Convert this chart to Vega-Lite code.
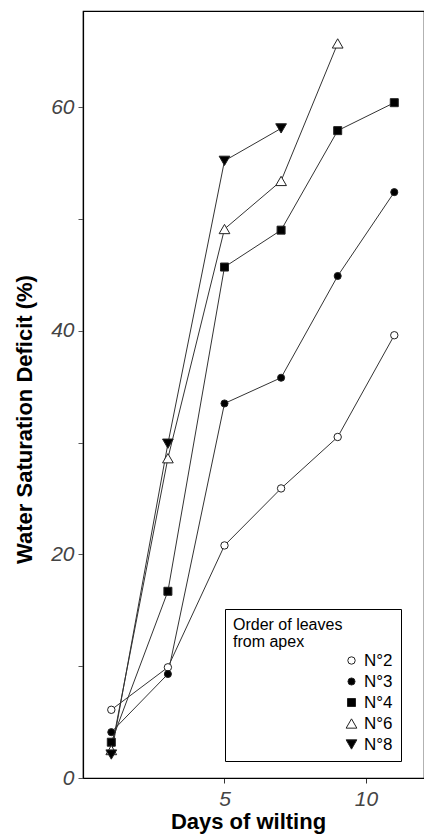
{
  "$schema": "https://vega.github.io/schema/vega-lite/v6.json",
  "width": 341,
  "height": 767,
  "autosize": "none",
  "padding": {"left": 83, "top": 11, "right": 0, "bottom": 56},
  "background": "white",
  "config": {
    "view": {"stroke": "black", "strokeWidth": 1.2},
    "font": "Liberation Sans"
  },
  "data": {
    "values": [
      {"leaf": "N°2", "day": 1, "wsd": 6.1},
      {"leaf": "N°2", "day": 3, "wsd": 9.9},
      {"leaf": "N°2", "day": 5, "wsd": 20.8},
      {"leaf": "N°2", "day": 7, "wsd": 25.9},
      {"leaf": "N°2", "day": 9, "wsd": 30.5},
      {"leaf": "N°2", "day": 11, "wsd": 39.6},
      {"leaf": "N°3", "day": 1, "wsd": 4.1},
      {"leaf": "N°3", "day": 3, "wsd": 9.3},
      {"leaf": "N°3", "day": 5, "wsd": 33.5},
      {"leaf": "N°3", "day": 7, "wsd": 35.8},
      {"leaf": "N°3", "day": 9, "wsd": 44.9},
      {"leaf": "N°3", "day": 11, "wsd": 52.4},
      {"leaf": "N°4", "day": 1, "wsd": 3.2},
      {"leaf": "N°4", "day": 3, "wsd": 16.7},
      {"leaf": "N°4", "day": 5, "wsd": 45.7},
      {"leaf": "N°4", "day": 7, "wsd": 49.0},
      {"leaf": "N°4", "day": 9, "wsd": 57.9},
      {"leaf": "N°4", "day": 11, "wsd": 60.4},
      {"leaf": "N°6", "day": 1, "wsd": 2.5},
      {"leaf": "N°6", "day": 3, "wsd": 28.6},
      {"leaf": "N°6", "day": 5, "wsd": 49.1},
      {"leaf": "N°6", "day": 7, "wsd": 53.4},
      {"leaf": "N°6", "day": 9, "wsd": 65.7},
      {"leaf": "N°8", "day": 1, "wsd": 2.1},
      {"leaf": "N°8", "day": 3, "wsd": 29.9},
      {"leaf": "N°8", "day": 5, "wsd": 55.2},
      {"leaf": "N°8", "day": 7, "wsd": 58.1}
    ]
  },
  "encoding": {
    "x": {
      "field": "day",
      "type": "quantitative",
      "scale": {"domain": [0, 12.05], "nice": false, "zero": false},
      "axis": {
        "values": [5, 10],
        "grid": false,
        "domainColor": "black",
        "domainWidth": 1.2,
        "tickColor": "#333",
        "tickSize": 5,
        "labelFont": "Liberation Sans",
        "labelFontStyle": "italic",
        "labelFontSize": 21,
        "labelColor": "#444",
        "labelPadding": 5,
        "title": "Days of wilting",
        "titleFont": "Liberation Sans",
        "titleFontSize": 22,
        "titleFontWeight": "bold",
        "titleColor": "black",
        "titlePadding": 2,
        "titleX": 165
      }
    },
    "y": {
      "field": "wsd",
      "type": "quantitative",
      "scale": {"domain": [0, 68.6], "nice": false},
      "axis": {
        "values": [0, 10, 20, 30, 40, 50, 60],
        "labelExpr": "datum.value % 20 === 0 ? datum.label : ''",
        "grid": false,
        "domainColor": "black",
        "domainWidth": 1.2,
        "tickColor": "#555",
        "tickSize": 5,
        "labelFont": "Liberation Sans",
        "labelFontStyle": "italic",
        "labelFontSize": 21,
        "labelColor": "#444",
        "labelPadding": 4,
        "title": "Water Saturation Deficit (%)",
        "titleFont": "Liberation Sans",
        "titleFontSize": 22,
        "titleFontWeight": "bold",
        "titleColor": "black",
        "titleX": -47,
        "titleY": 408
      }
    }
  },
  "layer": [
    {
      "mark": {"type": "line", "color": "#333", "strokeWidth": 1},
      "encoding": {"detail": {"field": "leaf"}}
    },
    {
      "mark": {"type": "point", "filled": false, "stroke": "#222", "strokeWidth": 1, "opacity": 1},
      "encoding": {
        "shape": {
          "field": "leaf",
          "type": "nominal",
          "scale": {
            "domain": ["N°2", "N°3", "N°4", "N°6", "N°8"],
            "range": ["circle", "circle", "square", "triangle-up", "triangle-down"]
          },
          "legend": {
            "orient": "none",
            "legendX": 142,
            "legendY": 598,
            "title": ["Order of leaves", "from apex"],
            "titleFont": "Liberation Sans",
            "titleFontSize": 16,
            "titleFontWeight": "normal",
            "titleColor": "black",
            "titleLineHeight": 17,
            "titlePadding": 2,
            "labelFont": "Liberation Sans",
            "labelFontSize": 17,
            "labelColor": "black",
            "labelOffset": 4,
            "symbolOffset": 110,
            "rowPadding": 3,
            "padding": 8,
            "strokeColor": "black",
            "fillColor": "white",
            "symbolStrokeColor": "black",
            "symbolStrokeWidth": 1
          }
        },
        "fill": {
          "field": "leaf",
          "type": "nominal",
          "scale": {
            "domain": ["N°2", "N°3", "N°4", "N°6", "N°8"],
            "range": ["white", "black", "black", "white", "black"]
          }
        },
        "size": {
          "field": "leaf",
          "type": "ordinal",
          "scale": {
            "type": "ordinal",
            "domain": ["N°2", "N°3", "N°4", "N°6", "N°8"],
            "range": [55, 50, 64, 115, 115]
          }
        }
      }
    }
  ]
}
